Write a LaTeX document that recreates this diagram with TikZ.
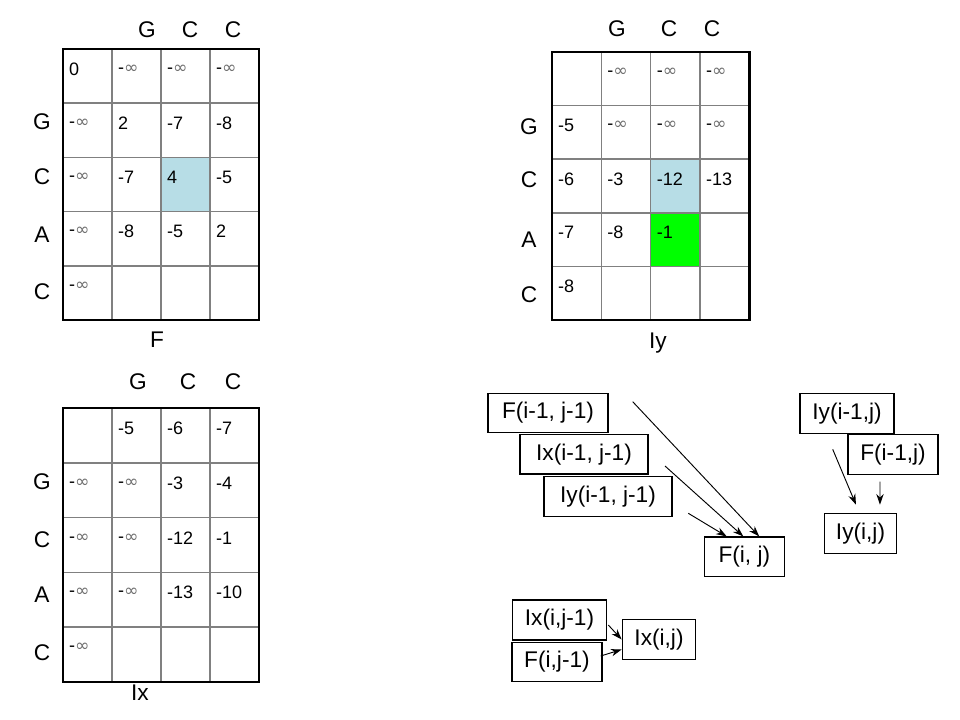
\documentclass[tikz,border=0pt]{standalone}
\usepackage{fontspec}
\setmainfont{Liberation Sans}
\newfontfamily\symfont{DejaVu Sans}
\usetikzlibrary{positioning, arrows.meta}
\definecolor{cellblue}{RGB}{183,221,230}
\definecolor{cellgreen}{RGB}{0,255,0}
\definecolor{gridgray}{RGB}{128,128,128}
\definecolor{infgray}{RGB}{110,110,110}
\newcommand{\ninf}{-{\symfont\color{infgray}\fontsize{13}{14}\selectfont ∞}}
\tikzstyle{cl} = [anchor=west, inner sep=0pt, font=\fontsize{13.5}{15}\selectfont]
\tikzstyle{lb} = [inner sep=0pt, font=\fontsize{17}{20}\selectfont]
\tikzstyle{gl} = [draw=gridgray, line width=1.1pt]
\tikzstyle{ob} = [draw, line width=2.2pt]
\tikzstyle{bx} = [rectangle, draw, fill=white, line width=0.9pt, text centered, minimum height=29.5pt, inner sep=0pt, font=\fontsize{17}{20}\selectfont]
\tikzstyle{ar} = [-{Stealth[length=8pt,width=5.5pt]}, line width=0.7pt]

\begin{document}
\begin{tikzpicture}[x=0.75pt, y=-0.75pt]
	\useasboundingbox (0,0) rectangle (960,720);
	% F matrix
	\begin{scope}[shift={(63,49)}, x=36.75pt, y=-40.65pt]
		\fill[cellblue] (2,2) rectangle (3,3);
		\foreach \i in {1,2,3} \draw[gl] (\i,0) -- (\i,5);
		\foreach \j in {1,...,4} \draw[gl] (0,\j) -- (4,\j);
		\draw[ob] (0,0) rectangle (4,5);
		\foreach \r/\c/\v in {0/0/0, 0/1/\ninf, 0/2/\ninf, 0/3/\ninf, 1/0/\ninf, 1/1/2, 1/2/-7, 1/3/-8, 2/0/\ninf, 2/1/-7, 2/2/4, 2/3/-5, 3/0/\ninf, 3/1/-8, 3/2/-5, 3/3/2, 4/0/\ninf}
			\node[cl] (F-\r-\c) at (\c+0.12,\r+0.37) {\v};
	\end{scope}
	\node[lb] (fcg) at (147,30) {G};
	\node[lb] (fcc) at (190,30) {C};
	\node[lb] (fcc2) at (233,30) {C};
	\node[lb] (frg) at (42,122) {G};
	\node[lb] (frc) at (42,177) {C};
	\node[lb] (fra) at (42,235) {A};
	\node[lb] (frc2) at (42,292) {C};
	\node[lb] (ft) at (157,340) {F};
	% Iy matrix
	\begin{scope}[shift={(552,52)}, x=36.98pt, y=-40.2pt]
		\fill[cellblue] (2,2) rectangle (3,3);
		\fill[cellgreen] (2,3) rectangle (3,4);
		\foreach \i in {1,2,3} \draw[gl] (\i,0) -- (\i,5);
		\foreach \j in {1,...,4} \draw[gl] (0,\j) -- (4,\j);
		\draw[ob] (0,0) rectangle (4,5);
		\foreach \r/\c/\v in {0/1/\ninf, 0/2/\ninf, 0/3/\ninf, 1/0/-5, 1/1/\ninf, 1/2/\ninf, 1/3/\ninf, 2/0/-6, 2/1/-3, 2/2/-12, 2/3/-13, 3/0/-7, 3/1/-8, 3/2/-1, 4/0/-8}
			\node[cl] (Y-\r-\c) at (\c+0.12,\r+0.37) {\v};
	\end{scope}
	\node[lb] (ycg) at (617,29) {G};
	\node[lb] (ycc) at (669,29) {C};
	\node[lb] (ycc2) at (712,29) {C};
	\node[lb] (yrg) at (529,127) {G};
	\node[lb] (yrc) at (529,180) {C};
	\node[lb] (yra) at (529,240) {A};
	\node[lb] (yrc2) at (529,295) {C};
	\node[lb] (yt) at (658,343) {Iy};
	% Ix matrix
	\begin{scope}[shift={(63,408)}, x=36.75pt, y=-41.1pt]
		\foreach \i in {1,2,3} \draw[gl] (\i,0) -- (\i,5);
		\foreach \j in {1,...,4} \draw[gl] (0,\j) -- (4,\j);
		\draw[ob] (0,0) rectangle (4,5);
		\foreach \r/\c/\v in {0/1/-5, 0/2/-6, 0/3/-7, 1/0/\ninf, 1/1/\ninf, 1/2/-3, 1/3/-4, 2/0/\ninf, 2/1/\ninf, 2/2/-12, 2/3/-1, 3/0/\ninf, 3/1/\ninf, 3/2/-13, 3/3/-10, 4/0/\ninf}
			\node[cl] (X-\r-\c) at (\c+0.12,\r+0.37) {\v};
	\end{scope}
	\node[lb] (xcg) at (138,382) {G};
	\node[lb] (xcc) at (188,382) {C};
	\node[lb] (xcc2) at (233,382) {C};
	\node[lb] (xrg) at (42,482) {G};
	\node[lb] (xrc) at (42,540) {C};
	\node[lb] (xra) at (42,595) {A};
	\node[lb] (xrc2) at (42,653) {C};
	\node[lb] (xt) at (140,693) {Ix};
	% recurrences
	\node[bx, minimum width=90pt] (fa) at (548,412.8) {F(i-1, j-1)};
	\node[bx, minimum width=96pt, below=0.75pt of fa, xshift=27pt] (xa) {Ix(i-1, j-1)};
	\node[bx, minimum width=96pt, minimum height=30pt, below=0.75pt of xa, xshift=18pt] (ya) {Iy(i-1, j-1)};
	\node[bx, minimum width=60pt] (fij) at (744.3,556.7) {F(i, j)};
	\node[bx, minimum width=70.5pt, minimum height=30pt] (yb) at (847,413.3) {Iy(i-1,j)};
	\node[bx, minimum width=67.5pt, minimum height=30pt, below=0pt of yb, xshift=34.5pt] (fb) {F(i-1,j)};
	\node[bx, minimum width=54.4pt, minimum height=30pt] (yij) at (860.5,533.3) {Iy(i,j)};
	\node[bx, minimum width=70.9pt, minimum height=30pt] (xc) at (559.5,620) {Ix(i,j-1)};
	\node[bx, minimum width=67.5pt, below=0.75pt of xc, xshift=-1.9pt] (fc) {F(i,j-1)};
	\node[bx, minimum width=55.1pt] (xij) at (659,639.5) {Ix(i,j)};
	\coordinate (s1) at (632.7,401.7);
	\coordinate (s2) at (665,466);
	\coordinate (s3) at (688.3,513.3);
	\draw[ar] (s1) -- ([xshift=11.2pt]fij.north);
	\draw[ar] (s2) -- ([xshift=-0.75pt]fij.north);
	\draw[ar] (s3) -- ([xshift=-13.2pt]fij.north);
	\coordinate (t1) at (832.7,449.3);
	\coordinate (t2) at (880,481.7);
	\draw[ar] (t1) -- ([xshift=-3.4pt, yshift=6pt]yij.north);
	\draw[ar] (t2) -- ([xshift=14.6pt, yshift=6pt]yij.north);
	\coordinate (u1) at (608.3,625);
	\coordinate (u2) at (600.7,656);
	\draw[ar] (u1) -- (xij.west);
	\draw[ar] (u2) -- ([yshift=-7.5pt]xij.west);
\end{tikzpicture}
\end{document}
